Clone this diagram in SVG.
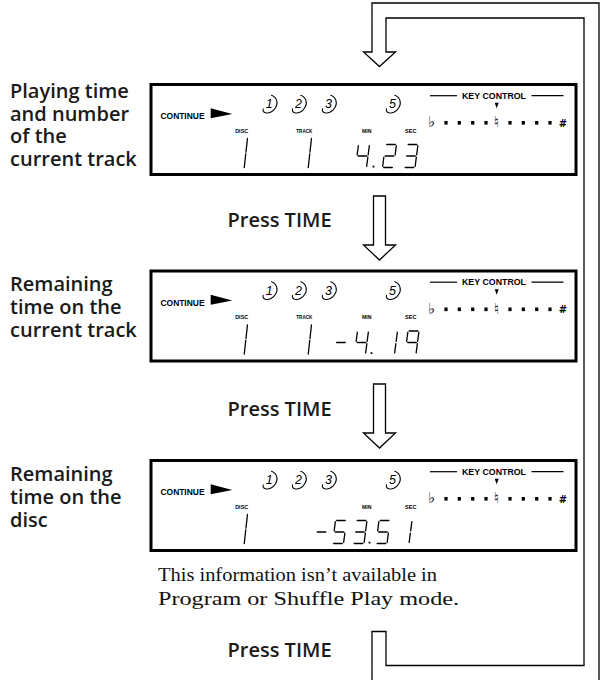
<svg xmlns="http://www.w3.org/2000/svg" xmlns:xlink="http://www.w3.org/1999/xlink" width="607" height="680" viewBox="0 0 607 680">
<style>
.lbl{font-family:"Open Sans","Noto Sans",sans-serif;font-weight:600;font-size:20px;fill:#1a1a1a}
.lcd{font-family:"Liberation Sans",Arial,sans-serif;font-weight:bold;fill:#000}
.num{font-family:"Liberation Sans",Arial,sans-serif;font-style:italic;font-size:12.5px;fill:#000;text-anchor:middle}
.sym{font-family:"DejaVu Sans",sans-serif;font-size:15px;fill:#000;text-anchor:middle}
.sharp{font-family:"DejaVu Sans",sans-serif;font-weight:bold;font-size:10px;fill:#000;text-anchor:middle}
.seg{stroke:#000;stroke-width:1.3;stroke-linecap:round;fill:none}
.sw{stroke:#000;stroke-width:1.05;fill:none;stroke-linecap:round}
.frame{fill:#fff;stroke:#000;stroke-width:3}
.arrow{fill:#fff;stroke:#000;stroke-width:1.3;stroke-linejoin:miter}
.note{font-family:"Liberation Serif","Times New Roman",serif;font-size:19.5px;fill:#111}
</style>
<defs>
<g id="d1" class="seg"><path d="M13.85,1.2L12.65,10.3M12.35,12.7L11.15,21.8"/></g>
<g id="d2" class="seg"><path d="M4.2,0H12.8M13.85,1.2L12.65,10.3M2.7,11.5H11.3M1.35,12.7L0.15,21.8M1.2,23H9.8"/></g>
<g id="d3" class="seg"><path d="M4.2,0H12.8M13.85,1.2L12.65,10.3M2.7,11.5H11.3M12.35,12.7L11.15,21.8M1.2,23H9.8"/></g>
<g id="d4" class="seg"><path d="M2.85,1.2L1.65,10.3M2.7,11.5H11.3M13.85,1.2L12.65,10.3M12.35,12.7L11.15,21.8"/></g>
<g id="d5" class="seg"><path d="M4.2,0H12.8M2.85,1.2L1.65,10.3M2.7,11.5H11.3M12.35,12.7L11.15,21.8M1.2,23H9.8"/></g>
<g id="d9" class="seg"><path d="M4.2,0H12.8M2.85,1.2L1.65,10.3M13.85,1.2L12.65,10.3M2.7,11.5H11.3M12.35,12.7L11.15,21.8"/></g>
<g id="dm" class="seg"><path d="M2.7,11.5H11.3"/></g>
<g id="tall1" class="seg"><path d="M3.45,0.5L1.95,14.2M1.75,15.8L0.25,29.5"/></g>
<rect id="dot" x="-0.9" y="-0.9" width="1.8" height="1.8" fill="#000"/>
<path id="swoosh" class="sw" d="M1.5,-13C7,-11 8.5,-5 5.5,-0.5C3.5,3 -1,5.5 -4.5,4.5C-6.5,3.8 -7.3,2.3 -6.8,0.5"/>
<g id="keyrow">
<line x1="430" y1="12.7" x2="457" y2="12.7" stroke="#000" stroke-width="1.2"/>
<line x1="531.5" y1="12.7" x2="563.5" y2="12.7" stroke="#000" stroke-width="1.2"/>
<polygon points="494.7,19.7 498.7,19.7 496.7,25.3" fill="#000"/>
<g fill="#000">
<rect x="444.4" y="38" width="3.2" height="3.6"/>
<rect x="457.7" y="38" width="3.2" height="3.6"/>
<rect x="471.1" y="38" width="3.2" height="3.6"/>
<rect x="484.4" y="38" width="3.2" height="3.6"/>
<rect x="508.4" y="38" width="3.2" height="3.6"/>
<rect x="521.7" y="38" width="3.2" height="3.6"/>
<rect x="535.1" y="38" width="3.2" height="3.6"/>
<rect x="548.4" y="38" width="3.2" height="3.6"/>
</g>
<polygon points="210.7,25.3 232.3,31 210.7,35.3" fill="#000"/>
<use xlink:href="#swoosh" href="#swoosh" x="270" y="25.3"/>
<use xlink:href="#swoosh" href="#swoosh" x="299.3" y="25.3"/>
<use xlink:href="#swoosh" href="#swoosh" x="329.3" y="25.3"/>
<use xlink:href="#swoosh" href="#swoosh" x="393.3" y="25.3"/>
</g>
</defs>

<g id="connectors">
<path class="arrow" style="fill:none" d="M599,680V3H372V52H363.5L379.5,66.5L395.5,52H386V18H584V665.5H386V631.5H372V680"/>
<path class="arrow" d="M373.5,196H385.5V245H395.5L379.5,260L363.5,245H373.5Z"/>
<path class="arrow" d="M373.5,384H385.5V433H395.5L379.5,448L363.5,433H373.5Z"/>
</g>

<g id="label1">
<text class="lbl" x="10" y="98">Playing time</text>
<text class="lbl" x="10" y="120.5">and number</text>
<text class="lbl" x="10" y="143">of the</text>
<text class="lbl" x="10" y="165.5">current track</text>
</g>
<g id="label2">
<text class="lbl" x="10" y="291">Remaining</text>
<text class="lbl" x="10" y="314">time on the</text>
<text class="lbl" x="10" y="337">current track</text>
</g>
<g id="label3">
<text class="lbl" x="10" y="481">Remaining</text>
<text class="lbl" x="10" y="504">time on the</text>
<text class="lbl" x="10" y="527">disc</text>
</g>

<g id="press1"><text class="lbl" x="227.5" y="227">Press TIME</text></g>
<g id="press2"><text class="lbl" x="227.5" y="415.5">Press TIME</text></g>
<g id="press3"><text class="lbl" x="227.5" y="656.5">Press TIME</text></g>

<g id="note">
<text class="note" x="158" y="581" textLength="279" lengthAdjust="spacingAndGlyphs">This information isn’t available in</text>
<text class="note" x="158" y="605" textLength="301" lengthAdjust="spacingAndGlyphs">Program or Shuffle Play mode.</text>
</g>

<g id="panel1" transform="translate(0,83)">
<rect class="frame" x="151" y="1.5" width="425" height="90"/>
<use xlink:href="#keyrow" href="#keyrow"/>
<text class="lcd" x="160.5" y="36" font-size="8.5" textLength="44" lengthAdjust="spacingAndGlyphs">CONTINUE</text>
<text class="num" x="269.3" y="25.3">1</text><text class="num" x="298.6" y="25.3">2</text><text class="num" x="328.6" y="25.3">3</text><text class="num" x="392.6" y="25.3">5</text>
<text class="lcd" x="494" y="15.8" font-size="8.5" text-anchor="middle" textLength="64" lengthAdjust="spacingAndGlyphs">KEY CONTROL</text>
<text class="sym" x="431.5" y="44">♭</text><text class="sym" x="496.5" y="44">♮</text><text class="sharp" x="563" y="43.6">#</text>
<text class="lcd" x="241.7" y="49.7" font-size="5.8" text-anchor="middle" textLength="13" lengthAdjust="spacingAndGlyphs">DISC</text>
<text class="lcd" x="304.3" y="49.7" font-size="5.8" text-anchor="middle" textLength="16" lengthAdjust="spacingAndGlyphs">TRACK</text>
<text class="lcd" x="366.7" y="49.7" font-size="5.8" text-anchor="middle" textLength="9.5" lengthAdjust="spacingAndGlyphs">MIN</text>
<text class="lcd" x="410.7" y="49.7" font-size="5.8" text-anchor="middle" textLength="11.5" lengthAdjust="spacingAndGlyphs">SEC</text>
<use xlink:href="#tall1" href="#tall1" x="244" y="55"/>
<use xlink:href="#tall1" href="#tall1" x="308" y="55"/>
<use xlink:href="#d4" href="#d4" x="355.5" y="61.5"/>
<use xlink:href="#dot" href="#dot" x="373.5" y="83.6"/>
<use xlink:href="#d2" href="#d2" x="382.5" y="61.5"/>
<use xlink:href="#d3" href="#d3" x="404" y="61.5"/>
</g>

<g id="panel2" transform="translate(0,269.5)">
<rect class="frame" x="151" y="1.5" width="425" height="90"/>
<use xlink:href="#keyrow" href="#keyrow"/>
<text class="lcd" x="160.5" y="36" font-size="8.5" textLength="44" lengthAdjust="spacingAndGlyphs">CONTINUE</text>
<text class="num" x="269.3" y="25.3">1</text><text class="num" x="298.6" y="25.3">2</text><text class="num" x="328.6" y="25.3">3</text><text class="num" x="392.6" y="25.3">5</text>
<text class="lcd" x="494" y="15.8" font-size="8.5" text-anchor="middle" textLength="64" lengthAdjust="spacingAndGlyphs">KEY CONTROL</text>
<text class="sym" x="431.5" y="44">♭</text><text class="sym" x="496.5" y="44">♮</text><text class="sharp" x="563" y="43.6">#</text>
<text class="lcd" x="241.7" y="49.7" font-size="5.8" text-anchor="middle" textLength="13" lengthAdjust="spacingAndGlyphs">DISC</text>
<text class="lcd" x="304.3" y="49.7" font-size="5.8" text-anchor="middle" textLength="16" lengthAdjust="spacingAndGlyphs">TRACK</text>
<text class="lcd" x="366.7" y="49.7" font-size="5.8" text-anchor="middle" textLength="9.5" lengthAdjust="spacingAndGlyphs">MIN</text>
<text class="lcd" x="410.7" y="49.7" font-size="5.8" text-anchor="middle" textLength="11.5" lengthAdjust="spacingAndGlyphs">SEC</text>
<use xlink:href="#tall1" href="#tall1" x="244" y="55"/>
<use xlink:href="#tall1" href="#tall1" x="308" y="55"/>
<use xlink:href="#dm" href="#dm" x="334" y="61.5"/>
<use xlink:href="#d4" href="#d4" x="354.5" y="61.5"/>
<use xlink:href="#dot" href="#dot" x="371.5" y="83.6"/>
<use xlink:href="#d1" href="#d1" x="383.5" y="61.5"/>
<use xlink:href="#d9" href="#d9" x="405" y="61.5"/>
</g>

<g id="panel3" transform="translate(0,459)">
<rect class="frame" x="151" y="1.5" width="425" height="90"/>
<use xlink:href="#keyrow" href="#keyrow"/>
<text class="lcd" x="160.5" y="36" font-size="8.5" textLength="44" lengthAdjust="spacingAndGlyphs">CONTINUE</text>
<text class="num" x="269.3" y="25.3">1</text><text class="num" x="298.6" y="25.3">2</text><text class="num" x="328.6" y="25.3">3</text><text class="num" x="392.6" y="25.3">5</text>
<text class="lcd" x="494" y="15.8" font-size="8.5" text-anchor="middle" textLength="64" lengthAdjust="spacingAndGlyphs">KEY CONTROL</text>
<text class="sym" x="431.5" y="44">♭</text><text class="sym" x="496.5" y="44">♮</text><text class="sharp" x="563" y="43.6">#</text>
<text class="lcd" x="241.7" y="49.7" font-size="5.8" text-anchor="middle" textLength="13" lengthAdjust="spacingAndGlyphs">DISC</text>
<text class="lcd" x="366.7" y="49.7" font-size="5.8" text-anchor="middle" textLength="9.5" lengthAdjust="spacingAndGlyphs">MIN</text>
<text class="lcd" x="410.7" y="49.7" font-size="5.8" text-anchor="middle" textLength="11.5" lengthAdjust="spacingAndGlyphs">SEC</text>
<use xlink:href="#tall1" href="#tall1" x="244" y="55"/>
<use xlink:href="#dm" href="#dm" x="314.5" y="61.5"/>
<use xlink:href="#d5" href="#d5" x="332.5" y="61.5"/>
<use xlink:href="#d3" href="#d3" x="353" y="61.5"/>
<use xlink:href="#dot" href="#dot" x="369.5" y="83.6"/>
<use xlink:href="#d5" href="#d5" x="376" y="61.5"/>
<use xlink:href="#d1" href="#d1" x="398" y="61.5"/>
</g>
</svg>
